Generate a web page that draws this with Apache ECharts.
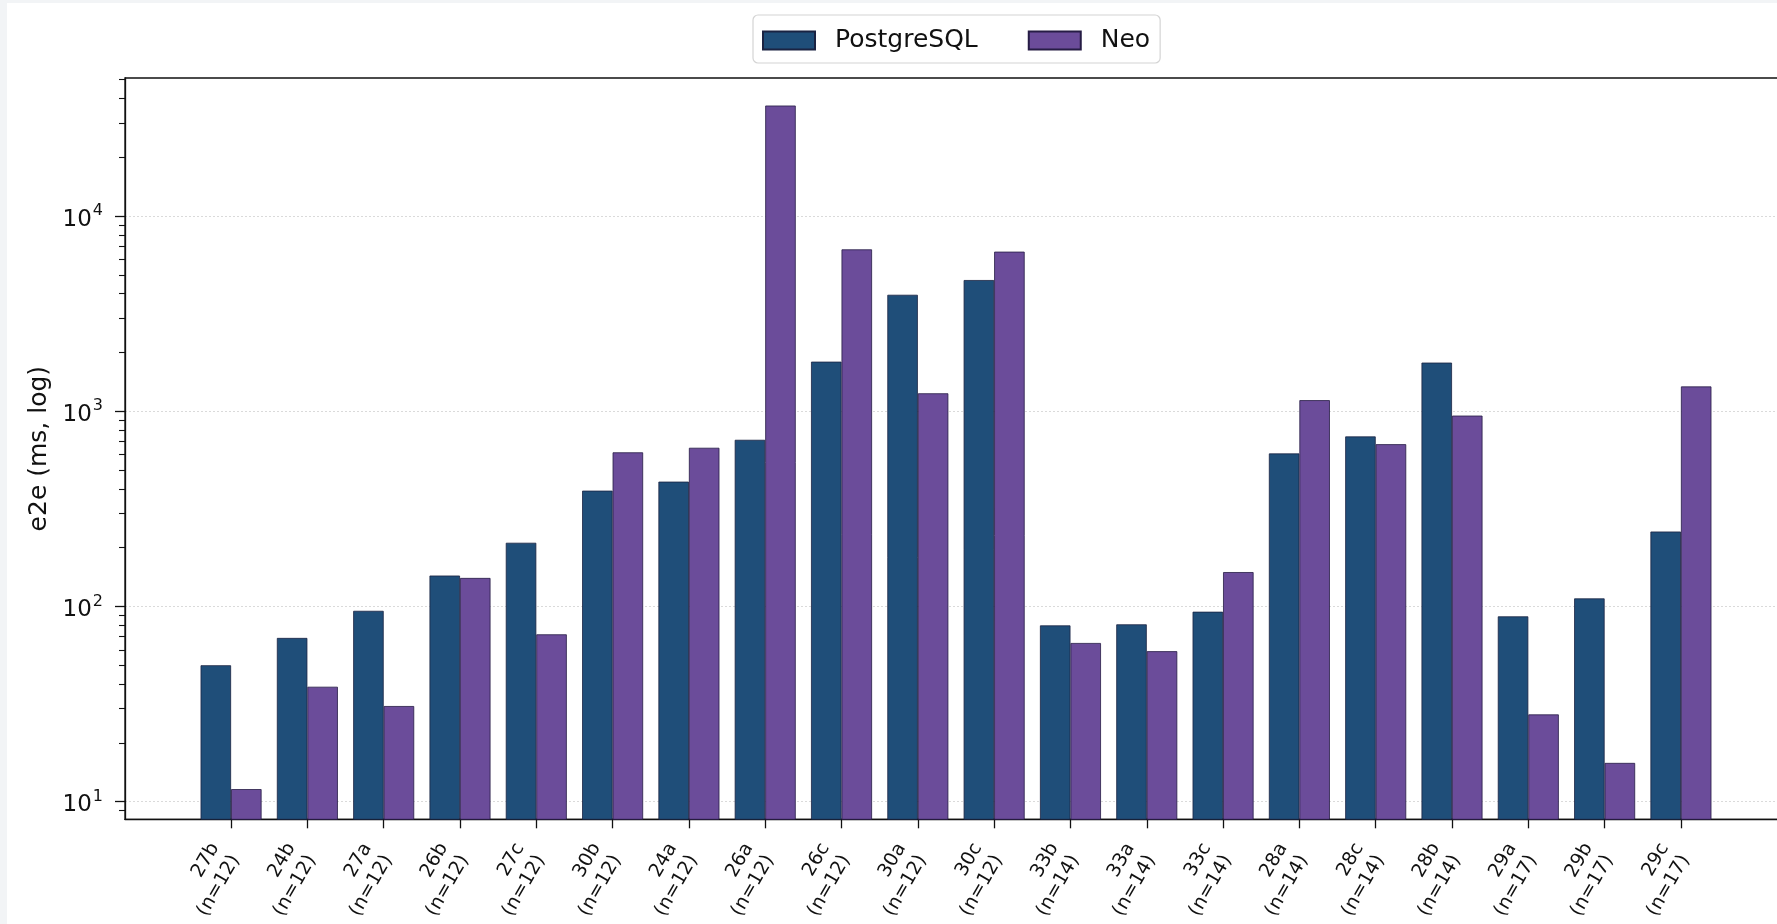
<!DOCTYPE html>
<html>
<head>
<meta charset="utf-8">
<script src="https://cdn.jsdelivr.net/npm/echarts@6/dist/echarts.min.js"></script>
<style>
  html, body { margin: 0; padding: 0; width: 1777px; height: 924px; overflow: hidden; background: #f2f4f6; }
  #chart { position: absolute; left: 7px; top: 3px; width: 1770px; height: 921px; background: #ffffff; }
</style>
</head>
<body>
<div id="chart"></div>
<script>
// Query ids along the x axis and the number of runs behind each one
const queries = ['27b', '24b', '27a', '26b', '27c', '30b', '24a', '26a', '26c', '30a',
                 '30c', '33b', '33a', '33c', '28a', '28c', '28b', '29a', '29b', '29c'];
const queryRuns = [12, 12, 12, 12, 12, 12, 12, 12, 12, 12,
                   12, 14, 14, 14, 14, 14, 14, 17, 17, 17];

// End-to-end latency in milliseconds
const postgresMs = [50, 69, 95, 144, 212, 392, 436, 714, 1795, 3950,
                    4700, 80, 81, 94, 608, 743, 1775, 89, 110, 242];
const neoMs = [11.6, 38.8, 30.9, 140, 72, 616, 650, 36800, 6750, 1236,
               6570, 65, 59, 150, 1140, 678, 950, 28, 15.8, 1340];

// Log-axis ticks
const majorTicks = [10, 100, 1000, 10000];
const minorTicks = [9, 20, 30, 40, 50, 60, 70, 80, 90,
                    200, 300, 400, 500, 600, 700, 800, 900,
                    2000, 3000, 4000, 5000, 6000, 7000, 8000, 9000,
                    20000, 30000, 40000, 50000];
const seriesNames = ['PostgreSQL', 'Neo'];

const FONT = '"DejaVu Sans", sans-serif';
const Y_MIN = 8.125, Y_MAX = 50940;
const categoryIdx = queries.map((_, i) => i);

const chart = echarts.init(document.getElementById('chart'), null, { renderer: 'canvas' });

const option = {
  animation: false,
  backgroundColor: '#ffffff',
  textStyle: { fontFamily: FONT },
  legend: {
    data: seriesNames,
    left: 746,
    top: 12,
    icon: 'rect',
    itemWidth: 52,
    itemHeight: 18,
    itemGap: 50,
    backgroundColor: '#ffffff',
    borderColor: '#d4d4d4',
    borderWidth: 1.2,
    borderRadius: 5,
    padding: [13, 10, 10, 9],
    textStyle: { fontSize: 25, fontFamily: FONT, color: '#111', padding: [0, 0, 0, 15] }
  },
  grid: {
    left: 118,
    top: 75,
    width: 1662,
    height: 741.3,
    outerBoundsMode: 'none',
    containLabel: false,
    show: true,
    borderColor: '#111',
    borderWidth: 1.3,
    backgroundColor: 'transparent'
  },
  xAxis: {
    type: 'value',
    min: -1.39,
    max: 20.39,
    axisLine: { show: true, onZero: false, lineStyle: { color: '#111', width: 1.3 } },
    axisTick: { show: true, customValues: categoryIdx, length: 9, lineStyle: { color: '#111', width: 1.3 } },
    axisLabel: {
      customValues: categoryIdx,
      rotate: 60,
      margin: 21,
      fontSize: 19,
      lineHeight: 24,
      fontFamily: FONT,
      color: '#111',
      padding: [0, 12, 0, 0],
      formatter: v => queries[v] + '\n(n=' + queryRuns[v] + ')'
    },
    splitLine: { show: false }
  },
  yAxis: [
    {
      type: 'log',
      logBase: 10,
      min: Y_MIN,
      max: Y_MAX,
      position: 'left',
      name: 'e2e (ms, log)',
      nameLocation: 'middle',
      nameGap: 72,
      nameTextStyle: { fontSize: 25, fontFamily: FONT, color: '#111' },
      axisLine: { show: true, onZero: false, lineStyle: { color: '#111', width: 1.3 } },
      axisTick: { show: true, customValues: majorTicks, length: 10, lineStyle: { color: '#111', width: 1.3 } },
      axisLabel: {
        customValues: majorTicks,
        margin: 22,
        formatter: v => '{b|10}{s|' + Math.round(Math.log10(v)) + '}',
        rich: {
          b: { fontSize: 23, fontFamily: FONT, color: '#111', verticalAlign: 'bottom', lineHeight: 30 },
          s: { fontSize: 16, fontFamily: FONT, color: '#111', verticalAlign: 'bottom', lineHeight: 30, padding: [0, 0, 12, 1] }
        }
      },
      splitLine: { show: true, lineStyle: { color: '#dadada', width: 1, type: [2, 2] } },
      minorTick: { show: false }
    },
    {
      type: 'log',
      logBase: 10,
      min: Y_MIN,
      max: Y_MAX,
      position: 'left',
      axisLine: { show: false, onZero: false },
      axisTick: { show: true, customValues: minorTicks, length: 6, lineStyle: { color: '#111', width: 1.1 } },
      axisLabel: { show: false },
      splitLine: { show: false }
    }
  ],
  series: [
    {
      name: seriesNames[0],
      type: 'bar',
      yAxisIndex: 0,
      data: queries.map((q, i) => [i, postgresMs[i]]),
      barWidth: 30.5,
      barGap: '0%',
      clip: true,
      itemStyle: { color: '#1f4e79', borderColor: '#1a2342', borderWidth: 0.8 },
      emphasis: { disabled: true }
    },
    {
      name: seriesNames[1],
      type: 'bar',
      yAxisIndex: 0,
      data: queries.map((q, i) => [i, neoMs[i]]),
      barWidth: 30.5,
      barGap: '0%',
      clip: true,
      itemStyle: { color: '#6b4c9a', borderColor: '#261c45', borderWidth: 0.8 },
      emphasis: { disabled: true }
    }
  ]
};

chart.setOption(option);
</script>
</body>
</html>
